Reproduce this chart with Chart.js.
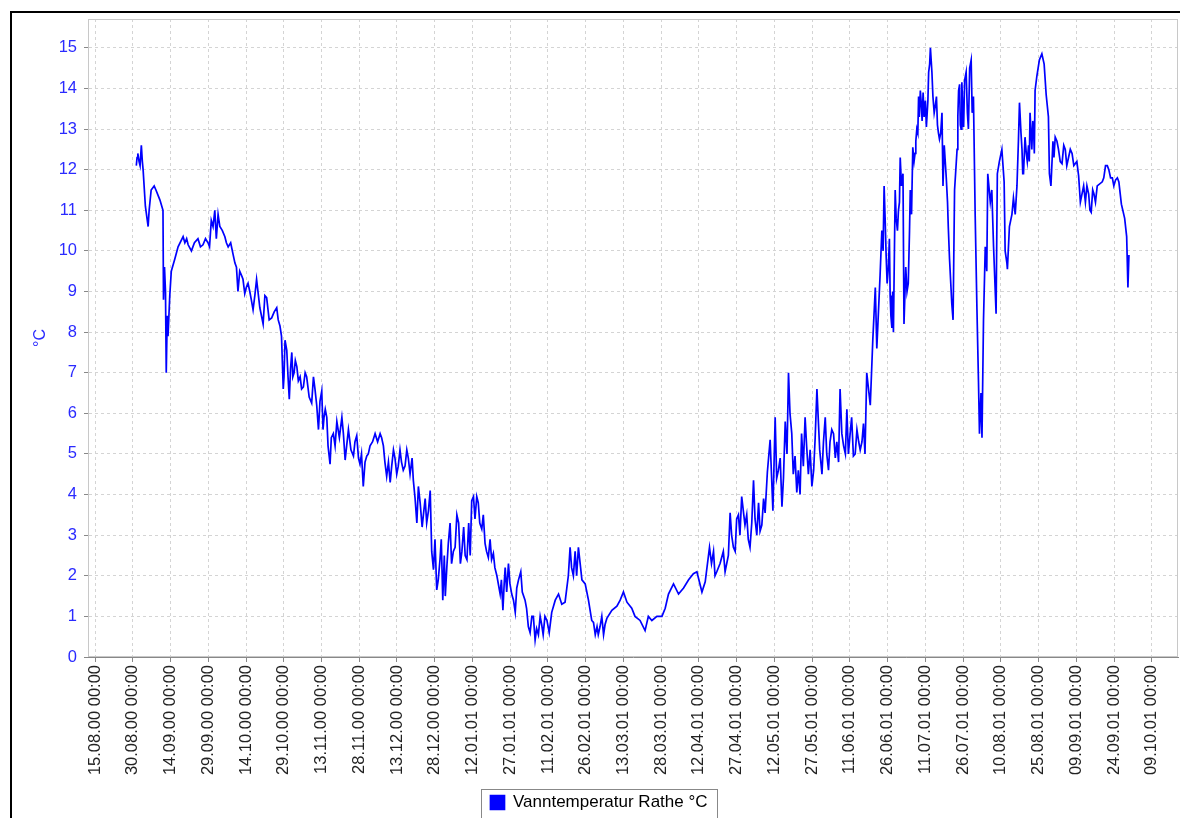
<!DOCTYPE html>
<html>
<head>
<meta charset="utf-8">
<title>Vanntemperatur Rathe</title>
<script src="https://cdn.jsdelivr.net/npm/chart.js@4.4.0/dist/chart.umd.min.js"></script>
<style>
  html, body { margin: 0; padding: 0; background: #fff; overflow: hidden; }
  .ramme { position: absolute; left: 10px; top: 11px; width: 1300px; height: 900px; border-left: 2px solid #000; border-top: 2px solid #000; }
  .graf { position: absolute; left: 0; top: 0; width: 1180px; height: 830px; }
</style>
</head>
<body>
<div class="ramme"></div>
<div class="graf"><canvas id="myChartVanntemp"></canvas></div>
<script>
const ctxVanntemp = document.getElementById('myChartVanntemp')

// dager etter 15.08.2000
const dager = [
  16.4, 16.7, 17.5, 18.4, 19.1, 20.0, 21.1, 21.5, 22.3, 23.5, 24.2, 25.8, 27.0, 27.2, 27.6, 28.0, 28.3, 28.7, 29.0, 29.7,
  30.3, 31.7, 33.0, 35.0, 35.7, 37.0, 38.3, 40.9, 42.9, 44.9, 46.2, 47.6, 48.2, 49.6, 51.6, 52.9, 54.9, 56.2, 56.8, 57.5,
  58.8, 59.5, 60.8, 62.1, 62.8, 64.2, 66.8, 68.2, 70.2, 72.2, 73.5, 74.8, 75.5, 76.2, 77.2, 78.2, 79.1, 80.2, 81.5, 82.8,
  84.1, 86.1, 87.4, 88.8, 90.1, 91.0, 92.1, 92.6, 93.4, 94.7, 96.1, 98.1, 99.4, 100.7, 102.7, 104.0, 105.3, 106.6, 108.0, 109.3,
  111.3, 113.3, 114.6, 115.9, 117.3, 118.6, 119.9, 121.2, 122.5, 123.9, 125.2, 126.5, 127.9, 129.2, 130.5, 131.8, 133.2, 134.5, 135.8, 137.1,
  138.2, 139.8, 141.1, 142.4, 143.8, 145.8, 147.8, 149.7, 150.4, 152.3, 153.7, 155.0, 156.3, 158.3, 159.7, 161.0, 162.1, 163.0, 164.3, 165.6,
  167.0, 168.3, 169.2, 170.9, 172.2, 173.6, 174.9, 176.9, 178.1, 179.6, 180.5, 181.5, 182.9, 184.2, 185.5, 186.8, 188.1, 188.8, 190.1, 192.1,
  193.5, 194.8, 196.1, 197.4, 198.8, 200.7, 202.1, 203.4, 205.4, 207.4, 208.7, 210.0, 211.4, 213.3, 214.6, 216.6, 218.6, 219.9, 221.3, 223.3,
  225.3, 226.6, 227.9, 229.9, 231.9, 233.9, 235.9, 237.8, 239.2, 241.2, 242.5, 244.2, 247.1, 249.7, 251.7, 252.4, 254.4, 255.0, 257.0, 258.3,
  260.3, 261.7, 263.0, 265.0, 266.3, 267.2, 268.3, 269.4, 270.3, 271.6, 273.0, 274.3, 275.6, 276.9, 278.2, 278.9, 280.2, 282.2, 283.5, 284.9,
  286.9, 288.0, 288.9, 290.2, 291.5, 292.8, 294.2, 296.1, 297.5, 298.8, 300.1, 301.4, 302.8, 304.1, 305.4, 306.7, 308.1, 309.1, 310.1, 310.7,
  312.0, 312.7, 313.6, 314.4, 315.3, 316.0, 316.7, 317.3, 318.0, 318.9, 319.7, 320.0, 321.1, 321.5, 322.7, 323.7, 324.0, 325.0, 325.9, 326.6,
  327.3, 328.0, 328.7, 330.0, 330.4, 331.3, 332.0, 332.6, 333.0, 333.9, 334.8, 335.6, 336.6, 337.0, 337.9, 338.8, 339.6, 340.5, 341.0, 341.6,
  342.6, 343.2, 343.9, 344.5, 345.2, 346.2, 347.1, 348.2, 349.1, 349.8, 350.5, 351.1, 351.5, 352.1, 352.5, 353.1, 353.8, 354.4, 354.8, 355.8,
  356.4, 357.1, 358.1, 358.6, 359.4, 360.4, 361.3, 361.7, 362.4, 362.6, 363.4, 364.4, 365.0, 366.4, 367.0, 367.4, 368.4, 369.0, 370.1, 371.0,
  371.6, 372.3, 373.0, 373.6, 374.3, 375.3, 376.3, 377.2, 378.0, 378.9, 379.3, 379.9, 380.7, 381.6, 382.9, 384.3, 385.6, 386.9, 388.3, 389.6,
  390.9, 391.6, 392.9, 394.9, 395.9, 397.0, 398.3, 400.3, 401.6, 402.9, 404.3, 405.6, 406.9, 407.9, 409.2, 410.0, 410.5, 410.9
]

// vanntemperatur °C
const temperatur = [
  12.1, 12.3, 12.2, 12.6, 12.0, 11.1, 10.6, 11.0, 11.5, 11.6, 11.5, 11.25, 11.0, 8.8, 9.6, 9.0, 7.0, 8.4, 7.9, 8.9,
  9.5, 9.8, 10.1, 10.35, 10.2, 10.15, 10.0, 10.3, 10.15, 10.2, 10.75, 11.0, 10.3, 10.6, 10.35, 10.1, 9.9, 9.6, 9.0, 9.5,
  9.3, 8.95, 9.2, 8.8, 8.55, 9.3, 8.2, 8.85, 8.35, 8.6, 8.15, 6.6, 7.8, 7.55, 6.35, 7.5, 7.0, 7.15, 6.9, 6.65,
  6.9, 6.25, 6.6, 5.6, 6.55, 5.9, 5.9, 5.2, 4.75, 5.5, 5.8, 5.9, 4.85, 5.6, 4.95, 5.45, 4.75, 4.2, 4.95, 5.2,
  5.5, 5.5, 5.2, 4.45, 4.3, 5.1, 4.5, 5.1, 4.6, 5.1, 4.5, 4.35, 3.3, 3.8, 3.5, 3.3, 4.1, 2.15, 1.65, 2.4,
  1.4, 2.2, 3.3, 2.6, 3.5, 2.6, 2.4, 3.85, 3.95, 3.8, 3.15, 2.8, 2.45, 2.55, 2.0, 1.55, 1.15, 2.2, 2.3, 1.55,
  1.1, 1.9, 2.1, 1.4, 0.75, 1.0, 0.42, 1.0, 0.55, 0.9, 0.6, 1.1, 1.4, 1.55, 1.3, 1.35, 2.0, 2.7, 2.0, 2.7,
  1.9, 1.8, 1.4, 0.9, 0.55, 0.75, 0.55, 0.95, 1.15, 1.25, 1.4, 1.6, 1.35, 1.2, 1.0, 0.9, 0.65, 1.0, 0.9, 1.0,
  1.0, 1.2, 1.55, 1.8, 1.55, 1.7, 1.9, 2.05, 2.1, 1.6, 1.85, 2.7, 2.1, 2.6, 2.5, 3.55, 2.6, 3.4, 3.95, 3.25,
  2.7, 4.35, 3.0, 3.25, 3.55, 4.55, 5.35, 3.6, 5.9, 4.6, 3.7, 5.8, 7.0, 5.5, 4.95, 4.05, 4.0, 5.9, 4.5, 4.2,
  6.6, 5.1, 4.5, 5.9, 4.6, 5.6, 4.9, 6.6, 5.2, 6.1, 5.5, 4.95, 5.6, 5.1, 5.75, 7.0, 6.2, 7.8, 9.1, 7.6,
  9.4, 10.5, 11.6, 9.9, 9.6, 8.9, 8.1, 8.0, 11.5, 10.5, 11.2, 12.3, 11.9, 8.2, 9.0, 10.5, 11.5, 12.55, 12.4, 13.0,
  13.8, 13.95, 13.2, 13.7, 13.05, 14.4, 15.0, 14.4, 13.8, 13.55, 13.1, 12.75, 13.4, 11.6, 12.2, 11.2, 9.8, 8.7, 8.3, 11.5,
  12.5, 13.95, 13.1, 14.15, 13.05, 14.4, 13.0, 14.7, 13.8, 10.85, 8.55, 6.8, 5.5, 6.5, 5.4, 8.3, 10.1, 9.5, 11.9, 11.2,
  11.5, 10.1, 8.45, 11.9, 12.2, 12.5, 11.7, 10.0, 9.7, 9.55, 10.6, 10.9, 11.3, 11.6, 12.75, 13.65, 12.5, 11.9, 12.4, 12.6,
  13.4, 12.5, 13.0, 13.95, 14.3, 14.7, 14.85, 14.6, 13.85, 13.3, 11.9, 11.6, 12.7, 12.8, 12.5, 12.15, 12.5, 12.3, 12.4, 12.15,
  11.85, 11.2, 11.6, 11.4, 10.95, 11.4, 11.6, 11.7, 12.1, 12.0, 11.8, 11.75, 11.7, 11.15, 10.8, 10.35, 9.1, 9.9
]

// døgnsvingninger lest mellom punktene over
const dagerSving = [
  17.0, 17.9, 18.8, 36.4, 39.5, 41.9, 43.9, 45.5, 46.9, 48.9, 50.6, 52.2, 53.9, 55.6, 58.2, 60.1, 61.5, 63.5,
  65.5, 67.5, 69.2, 71.2, 72.8, 74.1, 75.1, 76.7, 77.7, 78.6, 79.6, 80.8, 82.1, 83.5, 85.1, 86.8, 88.1, 89.4, 90.6, 91.5,
  93.9, 95.4, 97.1, 98.7, 100.0, 101.7, 103.3, 104.7, 105.9, 107.3, 108.6, 110.3, 112.3, 113.9, 115.2, 116.6, 117.9, 119.2,
  120.5, 121.8, 123.2, 124.5, 126.0, 127.2, 128.5, 130.0, 131.2, 132.5, 133.8, 135.1, 136.4, 137.6, 138.8, 139.2, 140.4,
  141.7, 143.1, 144.5, 145.2, 146.5, 147.1, 148.5, 149.1, 151.0, 151.7, 152.9, 154.3, 155.6, 157.0, 157.6, 158.9,
  161.5, 162.6, 163.6, 164.9, 166.3, 167.6, 169.8, 171.5, 172.9, 174.2, 175.5, 176.2, 177.5, 178.8,
  189.4, 190.8, 191.4, 192.8, 198.1, 199.5, 200.0, 201.4, 202.7,
  245.0, 245.8, 246.4, 248.4, 250.4, 253.0, 253.7, 255.7, 256.3, 259.0, 259.6, 261.0, 262.3, 263.7, 264.3, 265.7,
  270.9, 272.3, 273.6, 275.0, 276.2, 277.5, 279.5, 280.8, 281.5, 282.8, 284.2, 285.6, 286.2, 287.4, 289.5, 290.8,
  292.1, 293.5, 294.8, 295.5, 296.8, 298.2, 299.4, 300.7, 302.1, 303.5, 304.8, 306.0,
  313.2, 314.0, 314.8, 315.7, 316.3, 317.0, 318.4, 319.3, 320.5, 322.2, 323.2, 324.5, 325.5, 326.2, 327.0, 327.6,
  328.4, 329.1, 329.5, 331.0, 331.7, 333.5, 334.4, 335.2, 336.1, 337.5, 338.3, 339.1, 342.0, 342.9, 343.6, 344.2,
  344.8, 345.6, 346.7, 347.6, 348.6,
  365.7, 368.0, 368.7, 369.6, 370.5, 371.3, 372.7, 373.3, 381.1, 382.3, 383.6, 385.0, 386.2, 387.6, 389.0, 390.2,
  393.6, 394.2, 395.4, 396.5, 397.6, 400.9, 402.3, 403.6, 404.9, 406.3
]
const temperaturSving = [
  12.4, 12.1, 12.2, 10.3, 10.2, 10.1, 10.3, 10.1, 10.6, 10.9, 10.5, 10.2, 10.2, 9.7, 9.4, 9.1, 9.0, 8.9,
  8.6, 8.9, 8.3, 8.5, 8.3, 7.9, 6.9, 6.9, 7.1, 6.9, 7.3, 6.8, 6.6, 7.0, 6.4, 6.9, 6.2, 6.3, 5.6, 6.1,
  5.4, 5.2, 5.4, 5.5, 5.2, 5.1, 5.3, 4.9, 5.0, 4.8, 5.0, 5.3, 5.3, 5.4, 4.8, 4.8, 4.7, 4.9,
  4.7, 4.8, 4.7, 4.9, 4.9, 3.9, 4.2, 3.2, 3.9, 3.6, 2.6, 2.9, 1.9, 2.9, 2.5, 1.5, 2.8,
  2.3, 2.7, 3.3, 2.3, 3.2, 2.5, 3.3, 2.5, 3.4, 3.95, 3.3, 3.5, 2.6, 2.9, 2.4, 2.2,
  1.9, 1.8, 1.6, 1.8, 1.4, 1.7, 1.6, 1.2, 0.6, 1.0, 0.7, 0.55, 0.8, 1.0,
  2.2, 2.6, 2.0, 2.3, 0.85, 0.75, 0.55, 1.0, 0.8,
  2.3, 2.6, 2.0, 2.3, 2.1, 3.0, 2.7, 3.5, 3.0, 3.5, 2.9, 3.3, 3.4, 3.8, 3.1, 3.9,
  4.4, 4.9, 4.4, 5.0, 6.0, 4.5, 4.6, 5.5, 4.7, 5.2, 5.1, 4.6, 5.4, 5.9, 5.3, 5.0,
  5.3, 5.5, 5.3, 4.8, 5.5, 5.0, 5.0, 5.9, 5.0, 5.3, 5.3, 5.0,
  10.0, 10.8, 9.2, 10.3, 8.4, 9.0, 10.8, 11.0, 11.6, 9.6, 9.2, 10.9, 12.2, 12.7, 12.9, 13.3,
  13.6, 13.9, 13.3, 13.7, 14.6, 13.4, 13.8, 12.9, 12.9, 12.6, 11.8, 10.6, 11.9, 13.3, 14.1, 13.0,
  13.6, 14.2, 13.4, 14.5, 13.4,
  10.9, 12.9, 11.9, 12.8, 12.2, 12.2, 13.2, 12.4, 12.3, 12.7, 12.2, 12.6, 12.1, 12.5, 12.1, 12.2,
  11.2, 11.6, 11.0, 11.5, 11.2, 11.8, 12.1, 11.8, 11.6, 11.8
]

const xTickLabels = [
  '15.08.00 00:00', '30.08.00 00:00', '14.09.00 00:00', '29.09.00 00:00', '14.10.00 00:00', '29.10.00 00:00',
  '13.11.00 00:00', '28.11.00 00:00', '13.12.00 00:00', '28.12.00 00:00', '12.01.01 00:00', '27.01.01 00:00',
  '11.02.01 00:00', '26.02.01 00:00', '13.03.01 00:00', '28.03.01 00:00', '12.04.01 00:00', '27.04.01 00:00',
  '12.05.01 00:00', '27.05.01 00:00', '11.06.01 00:00', '26.06.01 00:00', '11.07.01 00:00', '26.07.01 00:00',
  '10.08.01 00:00', '25.08.01 00:00', '09.09.01 00:00', '24.09.01 00:00', '09.10.01 00:00'
]
const yTicks = [0, 1, 2, 3, 4, 5, 6, 7, 8, 9, 10, 11, 12, 13, 14, 15]

// dato-tekst -> dager etter 15.08.2000
function tilDager(tekst) {
  const d = tekst.split(' ')[0].split('.')
  const t = Date.UTC(2000 + Number(d[2]), Number(d[1]) - 1, Number(d[0]))
  return (t - Date.UTC(2000, 7, 15)) / 86400000
}
const xTickDager = xTickLabels.map(tilDager)

let punkter = []
for (let i = 0; i < dager.length; i++) {
  punkter.push({ x: dager[i], y: temperatur[i] })
}
for (let i = 0; i < dagerSving.length; i++) {
  punkter.push({ x: dagerSving[i], y: temperaturSving[i] })
}
punkter.sort((a, b) => a.x - b.x)

const fontNavn = '"Liberation Sans", Arial, sans-serif'

// grå ramme rundt plottet og rundt forklaringen
const rammePlugin = {
  id: 'rammer',
  beforeDatasetsDraw(chart) {
    const a = chart.chartArea
    const c = chart.ctx
    c.save()
    c.strokeStyle = '#c8c8c8'
    c.lineWidth = 1
    c.strokeRect(a.left + 0.5, a.top + 0.5, a.right - a.left - 1, a.bottom - a.top - 1)
    c.restore()
  },
  afterDraw(chart) {
    const boks = chart.legend.legendHitBoxes[0]
    if (!boks) return
    const c = chart.ctx
    c.save()
    c.strokeStyle = '#888'
    c.lineWidth = 1
    c.strokeRect(Math.round(boks.left - 9) + 0.5, Math.round(boks.top - 5) + 0.5, Math.round(boks.width + 19), 60)
    c.restore()
  }
}

new Chart(ctxVanntemp, {
  type: 'line',
  data: {
    datasets: [{
      label: 'Vanntemperatur Rathe °C',
      data: punkter,
      borderColor: 'rgb(0, 0, 255)',
      backgroundColor: 'rgb(0, 0, 255)',
      borderWidth: 1.7,
      pointRadius: 0,
      tension: 0,
      fill: false
    }]
  },
  options: {
    responsive: true,
    maintainAspectRatio: false,
    animation: false,
    devicePixelRatio: 1,
    layout: {
      padding: { left: 20, right: 2, top: 19, bottom: 9 }
    },
    plugins: {
      legend: {
        position: 'bottom',
        labels: {
          boxWidth: 14,
          boxHeight: 14,
          padding: 10,
          color: '#000',
          font: { family: fontNavn, size: 17 }
        }
      },
      tooltip: { enabled: false }
    },
    scales: {
      x: {
        type: 'linear',
        min: -2.8,
        max: 430.4,
        afterBuildTicks: (s) => { s.ticks = xTickDager.map(v => ({ value: v })) },
        afterFit: (s) => { s.height = 127 },
        ticks: {
          autoSkip: false,
          minRotation: 90,
          maxRotation: 90,
          padding: 3,
          color: '#222',
          font: { family: fontNavn, size: 16.5 },
          callback: (v, i) => xTickLabels[i]
        },
        grid: {
          color: '#d4d4d4',
          tickColor: '#888',
          tickLength: 5
        },
        border: { color: '#888', width: 1, dash: [3, 3] }
      },
      y: {
        min: 0,
        max: 15.71,
        afterBuildTicks: (s) => { s.ticks = yTicks.map(v => ({ value: v })) },
        afterFit: (s) => { s.width = 68 },
        ticks: {
          padding: 7,
          color: '#2a2aff',
          font: { family: fontNavn, size: 16.5 }
        },
        grid: {
          color: '#d4d4d4',
          tickColor: '#888',
          tickLength: 4
        },
        border: { color: '#888', width: 1, dash: [3, 3] },
        title: {
          display: true,
          text: '°C',
          color: '#2a2aff',
          padding: { top: 11, bottom: 0 },
          font: { family: fontNavn, size: 16 }
        }
      }
    }
  },
  plugins: [rammePlugin]
});
</script>
</body>
</html>
